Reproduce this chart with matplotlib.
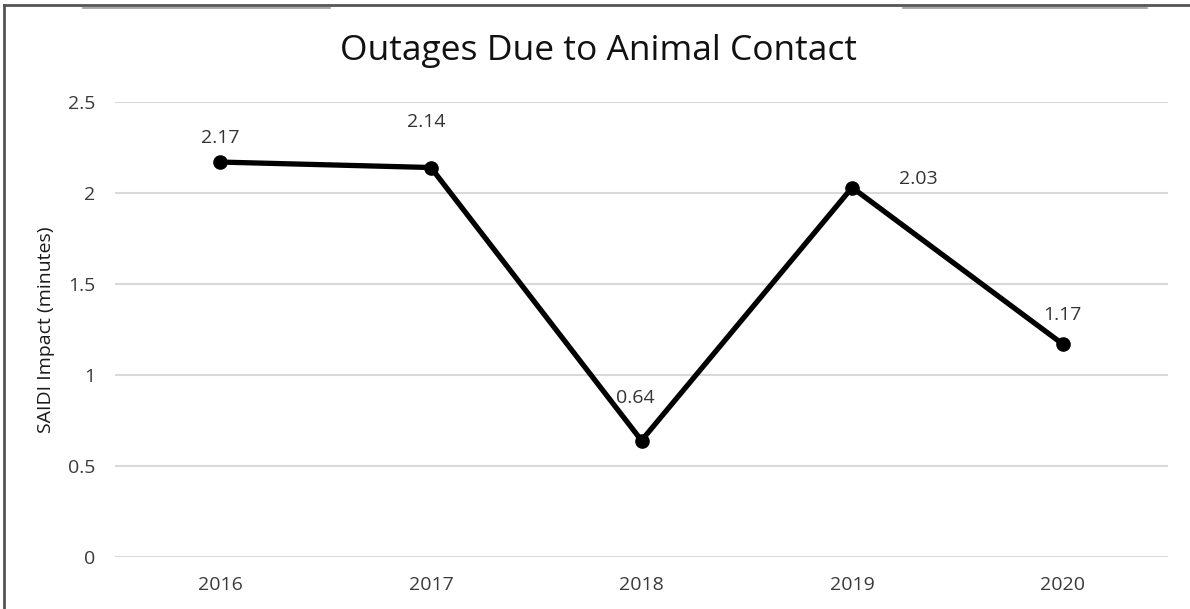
import matplotlib
matplotlib.use("Agg")
import matplotlib.pyplot as plt
from matplotlib.lines import Line2D

years = ["2016", "2017", "2018", "2019", "2020"]
saidi = [2.17, 2.14, 0.64, 2.03, 1.17]
value_labels = ["2.17", "2.14", "0.64", "2.03", "1.17"]
y_ticks = [0, 0.5, 1, 1.5, 2, 2.5]
y_tick_labels = ["0", "0.5", "1", "1.5", "2", "2.5"]
title = "Outages Due to Animal Contact"
y_label = "SAIDI Impact (minutes)"

plt.rcParams['font.family'] = ['Open Sans', 'DejaVu Sans']

fig = plt.figure(figsize=(11.9, 6.09), dpi=100)
W, H = 1190, 609
ax = fig.add_axes([115 / W, 52 / H, (1168 - 115) / W, (557 - 102) / H])

x = list(range(len(years)))
ax.plot(x, saidi, color='black', linewidth=3.8, marker='o', markersize=9.5,
        solid_joinstyle='round', zorder=3)

offsets = [(0, 24), (-5, 46), (-6, 43), (66, 9), (0, 29)]
for xi, yi, lab, (dx, dy) in zip(x, saidi, value_labels, offsets):
    ax.annotate(lab, (xi, yi), xytext=(dx, dy), textcoords='offset pixels',
                ha='center', va='center', fontsize=14, color='#333333', zorder=4)

ax.set_xlim(-0.5, len(years) - 0.5)
ax.set_ylim(0, 2.5)
ax.set_xticks(x)
ax.set_xticklabels(years)
ax.set_yticks(y_ticks)
ax.set_yticklabels(y_tick_labels)
ax.tick_params(axis='both', length=0, labelsize=14, colors='#3a3a3a')
ax.tick_params(axis='x', pad=14)
ax.tick_params(axis='y', pad=14)
ax.grid(axis='y', color='#d9d9d9', linewidth=1.5)
ax.set_axisbelow(True)
for s in ax.spines.values():
    s.set_visible(False)

ax.set_ylabel(y_label, fontsize=14, color='#1a1a1a')
ax.yaxis.set_label_coords((55 - 115) / (1168 - 115), (609 - 330 - 52) / (557 - 102))

fig.text(598 / W, 1 - 51 / H, title, ha='center', va='center', fontsize=25.5, color='#111111')

# frame lines
fig.add_artist(Line2D([4 / W, 4 / W], [0, 1 - 5 / H], transform=fig.transFigure,
                      color='#555555', linewidth=2))
fig.add_artist(Line2D([4 / W, 1], [1 - 5 / H, 1 - 5 / H], transform=fig.transFigure,
                      color='#555555', linewidth=2))
fig.add_artist(Line2D([83 / W, 330 / W], [1 - 7.5 / H, 1 - 7.5 / H], transform=fig.transFigure,
                      color='#999999', linewidth=1.2))
fig.add_artist(Line2D([903 / W, 1147 / W], [1 - 7.5 / H, 1 - 7.5 / H], transform=fig.transFigure,
                      color='#999999', linewidth=1.2))

fig.savefig("out.png", dpi=100)
